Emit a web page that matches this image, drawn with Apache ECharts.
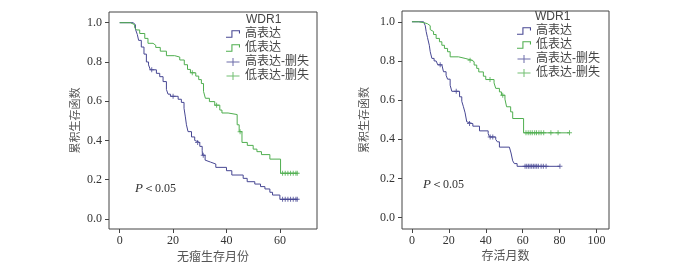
<!DOCTYPE html>
<html>
<head>
<meta charset="utf-8">
<script src="https://cdn.jsdelivr.net/npm/echarts@6/dist/echarts.min.js"></script>
<style>
html, body { margin: 0; padding: 0; background: #fff; }
#chart { width: 700px; height: 262px; }
</style>
</head>
<body>
<div id="chart"></div>
<script>
// left panel: 无瘤生存 (time in months, survival at each drop)
const dfsHighT = [0, 5, 5.9, 6.6, 7.1, 8.1, 9.1, 10, 10.8, 11.5, 13.75, 15, 16.25, 17.5, 18.1, 19, 21.9, 23.1, 24.1, 24.6, 25, 25.6, 26.9, 28.1, 28.5, 30, 30.9, 31, 32, 32.3, 34, 36, 40, 42, 46.25, 47.75, 50.6, 52.75, 54.4, 56.25, 57.25, 60]
const dfsHighS = [1.0, 0.99, 0.967, 0.94, 0.91, 0.876, 0.84, 0.80, 0.785, 0.76, 0.742, 0.725, 0.70, 0.66, 0.636, 0.625, 0.61, 0.594, 0.564, 0.52, 0.48, 0.445, 0.418, 0.40, 0.39, 0.37, 0.35, 0.325, 0.30, 0.29, 0.28, 0.263, 0.246, 0.224, 0.207, 0.19, 0.178, 0.165, 0.153, 0.136, 0.122, 0.10]
const dfsHighCens = [12, 20, 29.2, 31.3, 61, 62, 63, 64, 65, 66, 66.5]

const dfsLowT = [0, 4, 5.6, 6.3, 7.5, 9.4, 10.6, 12.5, 13.5, 15.2, 17.5, 20.6, 22.5, 24.2, 25.4, 26.5, 28.5, 29.6, 30.6, 31.4, 32.1, 33.6, 35.6, 37.5, 38.3, 40.6, 44, 44.75, 45.8, 47.8, 50, 51.4, 53.1, 56.25, 60.25]
const dfsLowS = [1.0, 0.99, 0.975, 0.963, 0.945, 0.92, 0.895, 0.885, 0.874, 0.855, 0.832, 0.825, 0.81, 0.786, 0.762, 0.745, 0.728, 0.71, 0.69, 0.65, 0.615, 0.598, 0.58, 0.555, 0.54, 0.532, 0.48, 0.445, 0.39, 0.375, 0.356, 0.343, 0.328, 0.305, 0.233]
const dfsLowCens = [27.2, 36.3, 45.1, 61, 62, 63, 64, 65, 66, 66.5]

// right panel: 存活月数
const osHighT = [0, 6.3, 7.2, 7.7, 8.4, 9.4, 9.9, 10.8, 12, 13.1, 14, 16.2, 17.1, 18.5, 19.3, 20.7, 21.6, 25.8, 27, 27.9, 28.8, 29.7, 30.5, 33, 36.6, 41.3, 42, 45.4, 46.3, 47.4, 52.8, 53.7, 54.6, 55.5, 57]
const osHighS = [1.0, 0.99, 0.98, 0.95, 0.92, 0.88, 0.847, 0.813, 0.80, 0.79, 0.78, 0.77, 0.745, 0.727, 0.707, 0.676, 0.645, 0.617, 0.594, 0.566, 0.535, 0.489, 0.48, 0.467, 0.443, 0.43, 0.412, 0.399, 0.387, 0.36, 0.35, 0.33, 0.29, 0.276, 0.262]
const osHighCens = [15.3, 24, 31.2, 42.4, 43.8, 61.3, 62.2, 63.1, 64, 64.9, 65.8, 66.7, 67.6, 68.5, 70, 71.2, 72.7, 80.2]

const osLowT = [0, 3.6, 6.7, 8.4, 9.9, 10.8, 11.7, 13.1, 14.9, 16.2, 17.6, 19.3, 20.7, 25.2, 28.8, 32.4, 33.7, 35.1, 36.2, 38.7, 40, 44.5, 45.4, 47.4, 48.5, 50.4, 51.3, 53.5, 54.6, 60.5]
const osLowS = [1.0, 0.995, 0.99, 0.98, 0.96, 0.95, 0.935, 0.915, 0.898, 0.88, 0.864, 0.847, 0.821, 0.813, 0.804, 0.796, 0.779, 0.762, 0.744, 0.722, 0.705, 0.688, 0.66, 0.642, 0.625, 0.605, 0.566, 0.54, 0.506, 0.433]
const osLowCens = [31.5, 42.3, 49.2, 61.8, 63, 64.1, 65.2, 66.5, 67.5, 68.8, 70, 71.4, 75.3, 79.2, 85.4]

const leftXTicks = [0, 20, 40, 60]
const rightXTicks = [0, 20, 40, 60, 80, 100]
const yTicks = [0, 0.2, 0.4, 0.6, 0.8, 1.0]

const blue = '#474793'
const green = '#4fae4f'
const serif = 'Liberation Serif'
const cjk = 'Liberation Sans, Noto Sans CJK SC'

function survAt(ts, ss, t) {
  let v = ss[0]
  for (let i = 0; i < ts.length; i++) if (ts[i] <= t) v = ss[i]
  return v
}
function curve(ts, ss, cens) {
  const d = ts.map((t, i) => [t, ss[i]])
  const end = Math.max.apply(null, cens)
  d.push([end, ss[ss.length - 1]])
  return d
}
function censPts(ts, ss, cens) {
  return cens.map(t => [t, survAt(ts, ss, t)])
}

const stepIcon = 'path://M0,7L5,7L5,1L13,1L13,4L12,4L12,2L6,2L6,8L0,8Z'
const censIcon = 'path://M0,3.5h13v1h-13z M6,0h1v8h-1z'
const censMark = 'path://M0,2h5v1h-5z M2,0h1v5h-1z'

function xAxis(idx, min, max, ticks, name, gap) {
  return {
    gridIndex: idx, type: 'value', min: min, max: max,
    axisLine: {show: false, onZero: false}, splitLine: {show: false},
    axisTick: {show: true, length: 4, customValues: ticks, lineStyle: {color: '#444'}},
    axisLabel: {customValues: ticks, margin: 6, fontFamily: serif, fontSize: 12, color: '#333'},
    name: name, nameLocation: 'middle', nameGap: gap, nameMoveOverlap: false,
    nameTextStyle: {fontFamily: cjk, fontSize: 12, color: '#555'}
  }
}
function yAxis(idx, min, max, gap) {
  return {
    gridIndex: idx, type: 'value', min: min, max: max,
    axisLine: {show: false, onZero: false}, splitLine: {show: false},
    axisTick: {show: true, length: 4, customValues: yTicks, lineStyle: {color: '#444'}},
    axisLabel: {customValues: yTicks, margin: 7, fontFamily: serif, fontSize: 12, color: '#333',
      formatter: v => v.toFixed(1)},
    name: '累积生存函数', nameLocation: 'middle', nameGap: gap, nameRotate: 90, nameMoveOverlap: false,
    nameTextStyle: {fontFamily: cjk, fontSize: 11, color: '#555'}
  }
}
function lineSeries(name, idx, data, color) {
  return {
    type: 'line', name: name, xAxisIndex: idx, yAxisIndex: idx, data: data,
    step: 'end', symbol: 'none', showSymbol: false, silent: true,
    lineStyle: {color: color, width: 1}, itemStyle: {color: color}, z: 3
  }
}
function censSeries(name, idx, data, color) {
  return {
    type: 'scatter', name: name, xAxisIndex: idx, yAxisIndex: idx, data: data,
    symbol: censMark, symbolSize: [5, 5], silent: true,
    itemStyle: {color: color}, z: 4
  }
}
function legend(left, top) {
  return {
    left: left, top: top, orient: 'vertical', padding: 0, itemGap: 0,
    itemWidth: 14, itemHeight: 8, selectedMode: false,
    itemStyle: {borderWidth: 0},
    textStyle: {fontFamily: cjk, fontSize: 12, lineHeight: 14, color: '#444'},
    data: [
      {name: '高表达', icon: stepIcon, itemStyle: {color: blue}},
      {name: '低表达', icon: stepIcon, itemStyle: {color: green}},
      {name: '高表达-删失', icon: censIcon, itemStyle: {color: blue}},
      {name: '低表达-删失', icon: censIcon, itemStyle: {color: green}}
    ]
  }
}
function pText(left, top) {
  return {
    type: 'text', left: left, top: top,
    style: {
      text: '{i|P}{n|＜0.05}', fill: '#333',
      rich: {
        i: {fontFamily: serif, fontStyle: 'italic', fontSize: 13, fill: '#333'},
        n: {fontFamily: serif, fontSize: 12, fill: '#333'}
      }
    }
  }
}

const chart = echarts.init(document.getElementById('chart'))
chart.setOption({
  animation: false,
  title: [
    {text: 'WDR1', left: 246, top: 14, padding: 0,
      textStyle: {fontFamily: 'Liberation Sans', fontSize: 12, fontWeight: 'normal', color: '#444'}},
    {text: 'WDR1', left: 535, top: 11, padding: 0,
      textStyle: {fontFamily: 'Liberation Sans', fontSize: 12, fontWeight: 'normal', color: '#444'}}
  ],
  legend: [legend(226, 27), legend(517, 24)],
  grid: [
    {left: 109, top: 12, width: 208, height: 217, show: true, borderColor: '#444', borderWidth: 1,
      outerBoundsMode: 'none', containLabel: false},
    {left: 402, top: 11, width: 207, height: 218, show: true, borderColor: '#444', borderWidth: 1,
      outerBoundsMode: 'none', containLabel: false}
  ],
  xAxis: [
    xAxis(0, -4, 73.9, leftXTicks, '无瘤生存月份', 23),
    xAxis(1, -5.4, 106.8, rightXTicks, '存活月数', 22)
  ],
  yAxis: [
    yAxis(0, -0.051, 1.0545, 28),
    yAxis(1, -0.058, 1.055, 32)
  ],
  graphic: [pText(135, 182), pText(423, 178)],
  series: [
    lineSeries('高表达', 0, curve(dfsHighT, dfsHighS, dfsHighCens), blue),
    lineSeries('低表达', 0, curve(dfsLowT, dfsLowS, dfsLowCens), green),
    censSeries('高表达-删失', 0, censPts(dfsHighT, dfsHighS, dfsHighCens), blue),
    censSeries('低表达-删失', 0, censPts(dfsLowT, dfsLowS, dfsLowCens), green),
    lineSeries('高表达', 1, curve(osHighT, osHighS, osHighCens), blue),
    lineSeries('低表达', 1, curve(osLowT, osLowS, osLowCens), green),
    censSeries('高表达-删失', 1, censPts(osHighT, osHighS, osHighCens), blue),
    censSeries('低表达-删失', 1, censPts(osLowT, osLowS, osLowCens), green)
  ]
})
</script>
</body>
</html>
